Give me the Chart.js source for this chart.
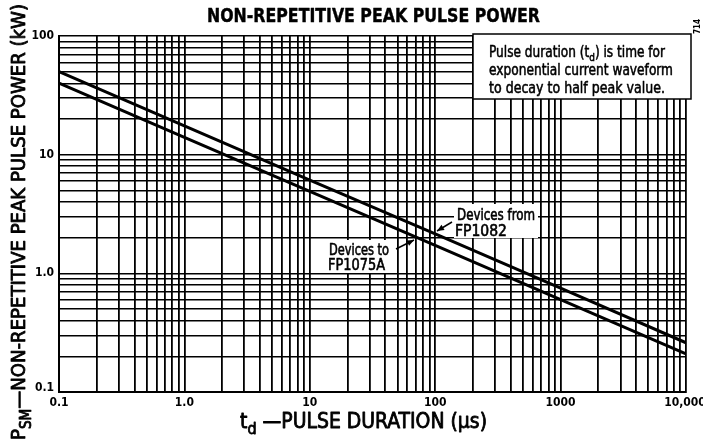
<!DOCTYPE html>
<html>
<head>
<meta charset="utf-8">
<script src="https://cdn.jsdelivr.net/npm/chart.js@4/dist/chart.umd.min.js"></script>
<style>
html,body{margin:0;padding:0;background:#fff;}
#wrap{width:703px;height:444px;position:relative;}
canvas{display:block;}
</style>
</head>
<body>
<div id="wrap"><canvas id="c" width="703" height="444"></canvas></div>
<script>
// ---- data ----
const pulseDuration = [0.1, 1, 10, 100, 1000, 10000];          // µs
const devicesFromFP1082 = [50, 17.5, 6.1, 2.15, 0.75, 0.26];     // kW
const devicesToFP1075A = [40, 14, 4.9, 1.72, 0.6, 0.21];         // kW
const xTickValues = [0.1, 1, 10, 100, 1000, 10000];
const xTickLabels = ['0.1', '1.0', '10', '100', '1000', '10,000'];
const yTickValues = [0.1, 1, 10, 100];
const yTickLabels = ['0.1', '1.0', '10', '100'];
const chartTitle = 'NON-REPETITIVE PEAK PULSE POWER';
const noteLines = [
  [['Pulse duration (t', 0], ['d', 1], [') is time for', 0]],
  [['exponential current waveform', 0]],
  [['to decay to half peak value.', 0]]
];

const FAM = "'Liberation Sans Narrow','DejaVu Sans Condensed','Roboto Condensed',sans-serif";

function logGrid(minV, maxV) {
  const out = [];
  for (let e = Math.round(Math.log10(minV)); e < Math.round(Math.log10(maxV)); e++) {
    for (let m = 1; m <= 9; m++) out.push(+(m * Math.pow(10, e)).toPrecision(3));
  }
  out.push(maxV);
  return out;
}

function richWidth(ctx, parts, size, weight) {
  let w = 0;
  for (const [t, sub] of parts) {
    ctx.font = weight + ' ' + (sub ? Math.round(size * 0.75) : size) + 'px ' + FAM;
    w += ctx.measureText(t).width;
  }
  return w;
}
// draw rich text parts [[text, sub?],...] at x, baseline y, fitted to targetW; heavy adds a thin outline
function drawRich(ctx, parts, x, y, size, weight, targetW, heavy) {
  const w = richWidth(ctx, parts, size, weight);
  const s = targetW ? targetW / w : 1;
  ctx.save();
  ctx.translate(x, y);
  ctx.scale(s, 1);
  let cx = 0;
  ctx.textBaseline = 'alphabetic';
  ctx.textAlign = 'left';
  ctx.strokeStyle = ctx.fillStyle;
  ctx.lineWidth = heavy || 0;
  ctx.lineJoin = 'round';
  for (const [t, sub] of parts) {
    ctx.font = weight + ' ' + (sub ? Math.round(size * 0.75) : size) + 'px ' + FAM;
    const dy = sub ? size * 0.28 : 0;
    ctx.fillText(t, cx, dy);
    if (heavy) ctx.strokeText(t, cx, dy);
    cx += ctx.measureText(t).width;
  }
  ctx.restore();
}
function arrow(ctx, x1, y1, x2, y2) {
  ctx.save();
  ctx.strokeStyle = '#000'; ctx.fillStyle = '#000'; ctx.lineWidth = 1.5;
  ctx.beginPath(); ctx.moveTo(x1, y1); ctx.lineTo(x2, y2); ctx.stroke();
  const a = Math.atan2(y2 - y1, x2 - x1), L = 7, W = 3;
  ctx.beginPath();
  ctx.moveTo(x2, y2);
  ctx.lineTo(x2 - L * Math.cos(a) + W * Math.sin(a), y2 - L * Math.sin(a) - W * Math.cos(a));
  ctx.lineTo(x2 - L * Math.cos(a) - W * Math.sin(a), y2 - L * Math.sin(a) + W * Math.cos(a));
  ctx.closePath(); ctx.fill();
  ctx.restore();
}

const decor = {
  id: 'decor',
  afterDraw(chart) {
    const ctx = chart.ctx;
    const xs = chart.scales.x, ys = chart.scales.y;
    ctx.save();
    ctx.fillStyle = '#000';

    // title
    drawRich(ctx, [[chartTitle, 0]], 207, 22, 19, 'bold', 333, 0.4);

    // tick labels
    ctx.font = 'bold 12px ' + FAM;
    ctx.textAlign = 'center'; ctx.textBaseline = 'middle';
    xTickValues.forEach((v, i) => {
      let px = xs.getPixelForValue(v);
      if (i === xTickValues.length - 1) px -= 1;
      ctx.fillText(xTickLabels[i], px, ys.bottom + 11);
    });
    ctx.textAlign = 'right';
    yTickValues.forEach((v, i) => {
      let py = ys.getPixelForValue(v);
      if (i === 0) py -= 4;
      ctx.fillText(yTickLabels[i], xs.left - 5, py);
    });

    // y-axis title (rotated)
    ctx.save();
    ctx.translate(25, 440);
    ctx.rotate(-Math.PI / 2);
    drawRich(ctx, [['P', 0], ['SM', 1], ['\u2014NON-REPETITIVE PEAK PULSE POWER (kW)', 0]], 0, 0, 20, 'normal', 436, 0.8);
    ctx.restore();

    // x-axis title
    drawRich(ctx, [['t', 0], ['d', 1], [' \u2014PULSE DURATION (\u00b5s)', 0]], 240, 428, 21, 'normal', 247, 0.8);

    // note box
    ctx.fillStyle = '#fff';
    ctx.fillRect(473, 34, 218, 65);
    ctx.strokeStyle = '#000'; ctx.lineWidth = 1.5;
    ctx.strokeRect(473, 34, 218, 65);
    ctx.fillStyle = '#000';
    drawRich(ctx, noteLines[0], 489, 57, 15, 'normal', 176, 0.5);
    drawRich(ctx, noteLines[1], 489, 75, 15, 'normal', 184, 0.5);
    drawRich(ctx, noteLines[2], 489, 93, 15, 'normal', 176, 0.5);

    // small page code
    ctx.save();
    ctx.translate(700, 34);
    ctx.rotate(-Math.PI / 2);
    ctx.font = 'bold 8px ' + FAM;
    ctx.textAlign = 'left'; ctx.textBaseline = 'alphabetic';
    ctx.fillText('714', 0, 0);
    ctx.restore();

    // device labels
    ctx.fillStyle = '#fff';
    ctx.fillRect(454, 204, 84, 34);
    ctx.fillRect(326, 240, 70, 33);
    ctx.fillStyle = '#000';
    drawRich(ctx, [['Devices from', 0]], 457, 220, 16, 'normal', 78, 0.6);
    drawRich(ctx, [['FP1082', 0]], 455, 236, 16, 'normal', 52, 0.6);
    drawRich(ctx, [['Devices to', 0]], 329, 255, 16, 'normal', 60, 0.6);
    drawRich(ctx, [['FP1075A', 0]], 328, 270, 16, 'normal', 57, 0.6);
    arrow(ctx, 452, 222, 437, 231);
    arrow(ctx, 396, 249, 414, 240);

    ctx.restore();
  }
};

const toXY = (xs, ys) => xs.map((x, i) => ({ x: x, y: ys[i] }));

new Chart(document.getElementById('c'), {
  type: 'line',
  data: {
    datasets: [
      { label: 'Devices from FP1082', data: toXY(pulseDuration, devicesFromFP1082),
        borderColor: '#000', borderWidth: 3, pointRadius: 0, fill: false, tension: 0 },
      { label: 'Devices to FP1075A', data: toXY(pulseDuration, devicesToFP1075A),
        borderColor: '#000', borderWidth: 3, pointRadius: 0, fill: false, tension: 0 }
    ]
  },
  options: {
    responsive: false,
    animation: false,
    devicePixelRatio: 1,
    layout: { padding: { left: 59, right: 17, top: 36, bottom: 52 } },
    plugins: { legend: { display: false }, tooltip: { enabled: false }, title: { display: false } },
    scales: {
      x: {
        type: 'logarithmic', min: 0.1, max: 10000,
        afterBuildTicks: s => { s.ticks = logGrid(0.1, 10000).map(v => ({ value: v })); },
        ticks: { display: false, autoSkip: false },
        grid: { color: '#000', lineWidth: 1.8, drawTicks: false, tickLength: 0 },
        border: { display: true, color: '#000', width: 2 },
        title: { display: false }
      },
      y: {
        type: 'logarithmic', min: 0.1, max: 100,
        afterBuildTicks: s => { s.ticks = logGrid(0.1, 100).map(v => ({ value: v })); },
        ticks: { display: false, autoSkip: false },
        grid: { color: '#000', lineWidth: 1.4, drawTicks: false, tickLength: 0 },
        border: { display: true, color: '#000', width: 2 },
        title: { display: false }
      }
    }
  },
  plugins: [decor]
});
</script>
</body>
</html>
